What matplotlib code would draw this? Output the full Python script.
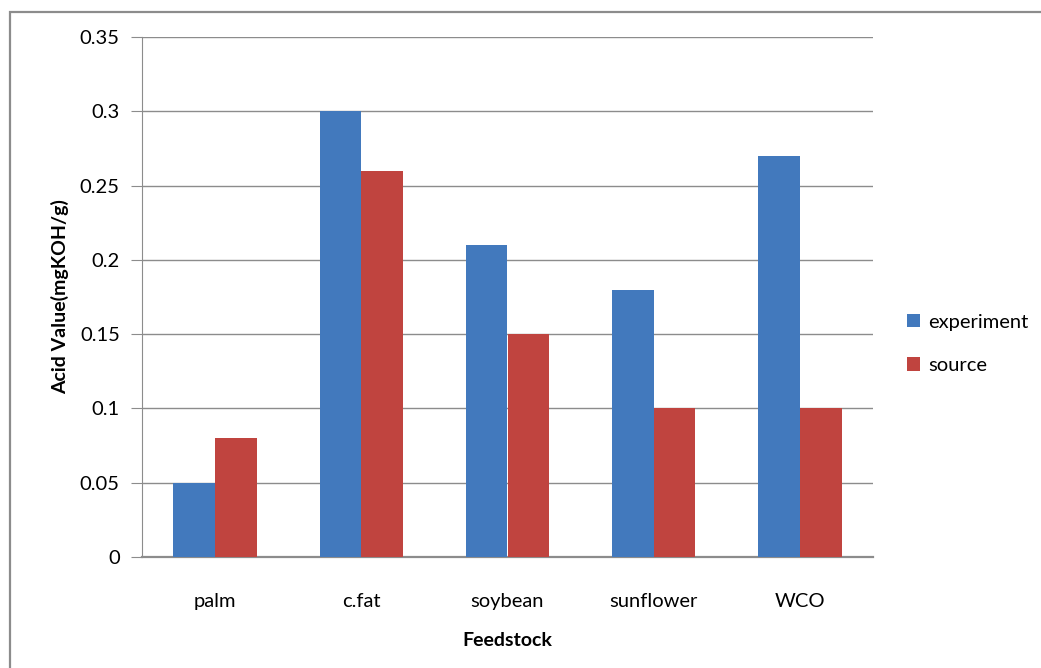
import matplotlib.pyplot as plt
import numpy as np
from matplotlib.patches import Rectangle

# Valores de acidez por matéria-prima
materias = ["palm", "c.fat", "soybean", "sunflower", "WCO"]
experimento = [0.05, 0.30, 0.21, 0.18, 0.27]
fonte = [0.08, 0.26, 0.15, 0.10, 0.10]
series = ["experiment", "source"]

plt.rcParams['font.family'] = ['Lato', 'DejaVu Sans']

fig = plt.figure(figsize=(10.41, 6.68), dpi=100)
# Moldura cinza do gráfico (cortada à direita e embaixo)
fig.patches.append(Rectangle((10 / 1041, -0.05), 1.2, 1 - 12 / 668 + 0.05,
                             transform=fig.transFigure, fill=False,
                             edgecolor='#8c8c8c', linewidth=1.6))

ax = fig.add_axes([142 / 1041, 1 - 557 / 668, 731 / 1041, 520 / 668])

x = np.arange(len(materias))
larg = 1 / 3.5
ax.bar(x - larg / 2, experimento, larg, color='#4279BD', label=series[0], zorder=3)
ax.bar(x + larg / 2, fonte, larg, color='#C0443F', label=series[1], zorder=3)

ax.set_xlim(-0.5, len(materias) - 0.5)
ax.set_ylim(0, 0.35)
ax.set_yticks(np.arange(0, 0.351, 0.05))
ax.set_yticklabels(["0", "0.05", "0.1", "0.15", "0.2", "0.25", "0.3", "0.35"])
ax.set_xticks(x)
ax.set_xticklabels(materias)

ax.grid(axis='y', color='#8c8c8c', linewidth=1.0, zorder=0)
for s in ["top", "right"]:
    ax.spines[s].set_visible(False)
ax.spines["left"].set_color('#8c8c8c')
ax.spines["bottom"].set_color('#8c8c8c')
ax.spines["bottom"].set_linewidth(1.6)
ax.tick_params(axis='y', length=8, color='#8c8c8c', labelsize=14.5, pad=8)
ax.tick_params(axis='x', length=0, labelsize=14.5, pad=26)

ax.set_xlabel("Feedstock", fontsize=14, fontweight='bold', labelpad=16)
ax.set_ylabel("Acid Value(mgKOH/g)", fontsize=14, fontweight='bold', labelpad=8)

ax.legend(loc='center left', bbox_to_anchor=(1.022, 0.41), frameon=False,
          fontsize=14.5, handlelength=0.65, handleheight=0.65, labelspacing=1.3,
          handletextpad=0.4)

fig.savefig("out.png", dpi=100)
